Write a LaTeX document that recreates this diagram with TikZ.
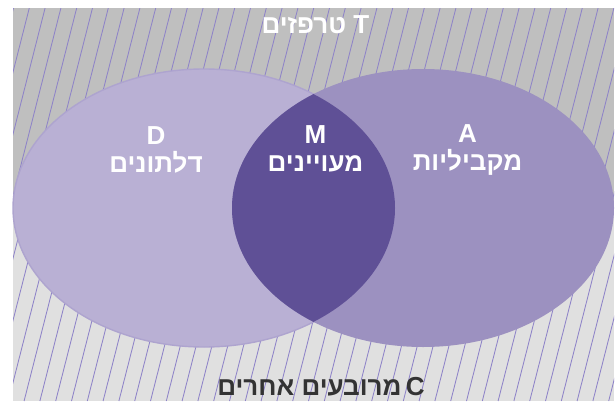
\documentclass[tikz,border=0pt]{standalone}
\usepackage{fontspec}
\setmainfont{Liberation Sans}
\newfontfamily\hebfont[Script=Hebrew]{Liberation Sans}
\TeXXeTstate=1
\definecolor{topgray}{HTML}{BFBFBF}
\definecolor{botgray}{HTML}{E0E0E0}
\definecolor{hatchline}{HTML}{8E83C8}
\definecolor{leftfill}{HTML}{B9B0D4}
\definecolor{leftdraw}{HTML}{AEA4CF}
\definecolor{rightfill}{HTML}{9C91C0}
\definecolor{lensfill}{HTML}{5F5096}
\definecolor{textdark}{HTML}{333333}

\begin{document}
\begin{tikzpicture}[x=0.025cm,y=-0.025cm,
    venntext/.style={font=\hebfont\fontsize{18.5}{19.5}\selectfont\bfseries,
      text=white,align=center,inner sep=0pt},
    hatch/.style={draw=hatchline,line width=0.6pt}]
    \useasboundingbox (0,0) rectangle (616,401);

    % fondo: arriba trapecios, abajo el resto
    \fill[topgray] (13,8) rectangle (614,204.5);
    \fill[botgray] (13,204.5) rectangle (614,401);
    \begin{scope}
      \clip (13,8) rectangle (614,401);
      \foreach \x in {-144.5,-128.7,...,720}{
        \draw[hatch] (\x,8) -- ({\x-100},401);
      }
    \end{scope}

    % conjuntos
    \filldraw[fill=leftfill,draw=leftdraw,line width=1pt]
      (204,208) ellipse [x radius=191,y radius=139];
    \fill[rightfill] (423,208) ellipse [x radius=191,y radius=139];
    \begin{scope}
      \clip (204,208) ellipse [x radius=191,y radius=139];
      \fill[lensfill] (423,208) ellipse [x radius=191,y radius=139];
    \end{scope}

    \node[venntext] (deltoids) at (156,150) {D\\\beginR דלתונים\endR};
    \node[venntext] (rhombi) at (315.5,149) {M\\\beginR מעויינים\endR};
    \node[venntext] (parallels) at (467.5,150) {A\\\beginR מקביליות\endR};

    \node[venntext] (trapezoids) at (315.5,25) {\beginR T טרפזים\endR};
    \node[venntext,text=textdark] (others) at (321,386.5) {\beginR C\,מרובעים אחרים\endR};
\end{tikzpicture}
\end{document}
